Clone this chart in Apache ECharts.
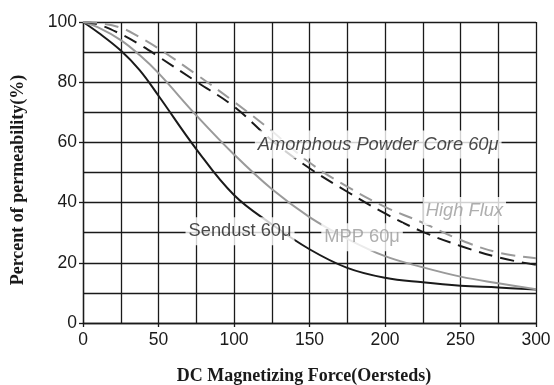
<!DOCTYPE html>
<html><head><meta charset="utf-8">
<script src="https://cdn.jsdelivr.net/npm/echarts@6/dist/echarts.min.js"></script>
<style>html,body{margin:0;padding:0;background:#fff}#c{width:554px;height:385px}</style>
</head><body><div id="c"></div>
<script>
const xValues = [0, 10, 25, 37.5, 50, 75, 100, 125, 150, 175, 200, 225, 250, 275, 300];
const sendust = [100, 96.5, 90.5, 84, 75.5, 57.8, 42.5, 32.8, 24.5, 18.3, 15, 13.5, 12.4, 11.8, 11.1];
const mpp = [100, 98.2, 94, 89, 83, 69, 56, 44.5, 35.2, 28, 22.2, 18.5, 15.4, 13.2, 11.2];
const amorphous = [100, 99.2, 96, 92.5, 88.5, 80.2, 71.9, 60.7, 51.4, 43.6, 36.4, 30.3, 25.6, 21.8, 19.3];
const highFlux = [100, 99.7, 98.1, 95, 91.2, 82.6, 73.5, 63.8, 53.3, 45.3, 38.6, 33.3, 27.6, 23.4, 21.5];
const labelNames = ['Amorphous Powder Core 60\u03bc', 'Sendust 60\u03bc', 'MPP 60\u03bc', 'High Flux'];
const labelX = [195.5, 104, 184.8, 252.6];
const labelY = [59.3, 30.5, 28.5, 37.2];

const pair = arr => xValues.map((x, i) => [x, arr[i]]);
const BLACK = '#1a1a1a', GRAY = '#9a9a9a';
const labelStyles = [
  {color: BLACK, fontStyle: 'italic'},
  {color: BLACK, fontStyle: 'normal'},
  {color: GRAY, fontStyle: 'normal'},
  {color: GRAY, fontStyle: 'italic'}
];
const gridLine = {show: true, lineStyle: {color: BLACK, width: 1.3}};
const chart = echarts.init(document.getElementById('c'));
chart.setOption({
  animation: false,
  backgroundColor: '#fff',
  grid: {left: 83, right: 18, top: 22, bottom: 62, containLabel: false, outerBoundsMode: 'none'},
  xAxis: {
    type: 'value', min: 0, max: 300, interval: 50,
    name: 'DC Magnetizing Force(Oersteds)', nameLocation: 'middle', nameGap: 44,
    nameTextStyle: {fontFamily: 'Liberation Serif', fontWeight: 'bold', fontSize: 18, color: BLACK, padding: [0, 11, 0, 0]},
    axisLine: {show: true, lineStyle: {color: BLACK, width: 1.3}},
    axisTick: {show: true, length: 4, lineStyle: {color: BLACK, width: 1.3}},
    axisLabel: {fontFamily: 'Liberation Sans', fontSize: 17.5, color: BLACK, margin: 8},
    splitLine: gridLine,
    minorTick: {show: false, splitNumber: 2},
    minorSplitLine: gridLine
  },
  yAxis: {
    type: 'value', min: 0, max: 100, interval: 20,
    name: 'Percent of permeability(%)', nameLocation: 'middle', nameGap: 56, nameRotate: 90,
    nameTextStyle: {fontFamily: 'Liberation Serif', fontWeight: 'bold', fontSize: 18, color: BLACK, padding: [0, 15, 0, 0]},
    axisLine: {show: true, lineStyle: {color: BLACK, width: 1.3}},
    axisTick: {show: true, length: 4, lineStyle: {color: BLACK, width: 1.3}},
    axisLabel: {fontFamily: 'Liberation Sans', fontSize: 17.5, color: BLACK, margin: 6},
    splitLine: gridLine,
    minorTick: {show: false, splitNumber: 2},
    minorSplitLine: gridLine
  },
  series: [
    {type: 'line', name: 'Sendust 60\u03bc', data: pair(sendust), smooth: 0.4, symbol: 'none', lineStyle: {color: BLACK, width: 2}, z: 3},
    {type: 'line', name: 'MPP 60\u03bc', data: pair(mpp), smooth: 0.4, symbol: 'none', lineStyle: {color: GRAY, width: 2}, z: 3},
    {type: 'line', name: 'Amorphous Powder Core 60\u03bc', data: pair(amorphous), smooth: 0.4, symbol: 'none', lineStyle: {color: BLACK, width: 2, type: [14, 8]}, z: 3},
    {type: 'line', name: 'High Flux', data: pair(highFlux), smooth: 0.4, symbol: 'none', lineStyle: {color: GRAY, width: 2, type: [14, 8]}, z: 3},
    {
      type: 'scatter', symbolSize: 0, z: 10, silent: true,
      data: labelNames.map((n, i) => ({
        name: n, value: [labelX[i], labelY[i]],
        label: Object.assign({
          show: true, position: 'inside', formatter: '{b}',
          fontFamily: 'Liberation Sans', fontSize: 18.3, lineHeight: 20,
          backgroundColor: '#fff', padding: [4, 3]
        }, labelStyles[i])
      }))
    }
  ]
});
</script></body></html>
